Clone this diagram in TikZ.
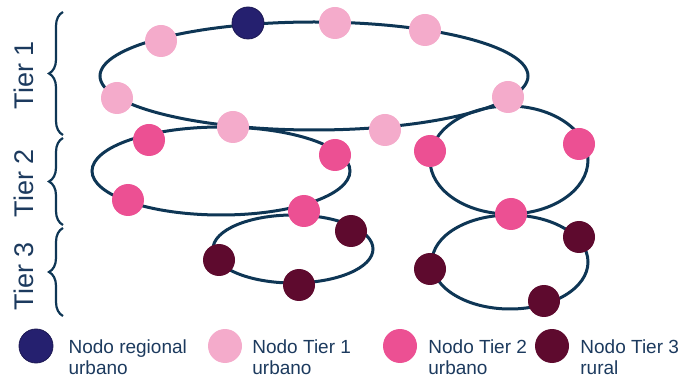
\documentclass[tikz,border=0pt]{standalone}
\usepackage{fontspec}
\setmainfont{Liberation Sans}
\usetikzlibrary{positioning,decorations.pathreplacing}
\definecolor{ring}{HTML}{0E3655}
\definecolor{txt}{HTML}{1C3A5E}
\definecolor{regional}{HTML}{25206F}
\definecolor{tierone}{HTML}{F4ABCB}
\definecolor{tiertwo}{HTML}{EC5093}
\definecolor{tierthree}{HTML}{5E0A2E}
\begin{document}
\begin{tikzpicture}[x=1pt,y=-1pt,
  loop/.style={draw=ring,line width=3pt},
  pt/.style={circle,minimum size=32pt,inner sep=0pt},
  reg/.style={pt,fill=regional,draw=regional!75!black,line width=.8pt},
  ta/.style={pt,fill=tierone},
  tb/.style={pt,fill=tiertwo},
  tc/.style={pt,fill=tierthree},
  key/.style={minimum size=34pt},
  lbl/.style={text=txt,font=\fontsize{19}{21}\selectfont,align=left,inner sep=0pt},
  tier/.style={text=txt,font=\fontsize{27}{30}\selectfont,rotate=90,anchor=base,inner sep=0pt},
  brc/.style={draw=ring,line width=2.2pt,decorate,decoration={brace,amplitude=14pt}}]
\useasboundingbox (0,0) rectangle (680,379);

% rings
\draw[loop] (314,76) ellipse [x radius=214, y radius=54];
\draw[loop] (221,171) ellipse [x radius=129, y radius=44];
\draw[loop] (509,160) ellipse [x radius=79, y radius=54];
\draw[loop] (293,249) ellipse [x radius=80, y radius=34];
\draw[loop] (510,262) ellipse [x radius=78, y radius=47];

% tier 1
\node[reg] (r) at (248,23) {};
\node[ta] (a1) at (161,41) {};
\node[ta] (a2) at (335,23) {};
\node[ta] (a3) at (425,30) {};
\node[ta] (a4) at (117,98) {};
\node[ta] (a5) at (233,127) {};
\node[ta] (a6) at (385,130) {};
\node[ta] (a7) at (508,97) {};
% tier 2
\node[tb] (b1) at (149,140) {};
\node[tb] (b2) at (335,155) {};
\node[tb] (b3) at (128,200) {};
\node[tb] (b4) at (304,211) {};
\node[tb] (b5) at (430,151) {};
\node[tb] (b6) at (579,144) {};
\node[tb] (b7) at (511,214) {};
% tier 3
\node[tc] (c1) at (219,260) {};
\node[tc] (c2) at (299,285) {};
\node[tc] (c3) at (351,231) {};
\node[tc] (c4) at (430,269) {};
\node[tc] (c5) at (579,237) {};
\node[tc] (c6) at (544,301) {};

% braces
\draw[brc] (63,135) -- (63,12);
\draw[brc] (63,225) -- (63,138);
\draw[brc] (63,316) -- (63,228);
\node[tier] (n1) at (33,75) {Tier 1};
\node[tier] (n2) at (33,183) {Tier 2};
\node[tier] (n3) at (33,276) {Tier 3};

% legend
\node[reg,key] (l0) at (36,346) {};
\node[ta,key] (l1) at (225,346) {};
\node[tb,key] (l2) at (400,346) {};
\node[tc,key] (l3) at (552,346) {};
\node[lbl,right=15pt of l0,yshift=-11pt] (k0) {Nodo regional\\urbano};
\node[lbl,right=10pt of l1,yshift=-11pt] (k1) {Nodo Tier 1\\urbano};
\node[lbl,right=11pt of l2,yshift=-11pt] (k2) {Nodo Tier 2\\urbano};
\node[lbl,right=11pt of l3,yshift=-11pt] (k3) {Nodo Tier 3\\rural};
\end{tikzpicture}
\end{document}
